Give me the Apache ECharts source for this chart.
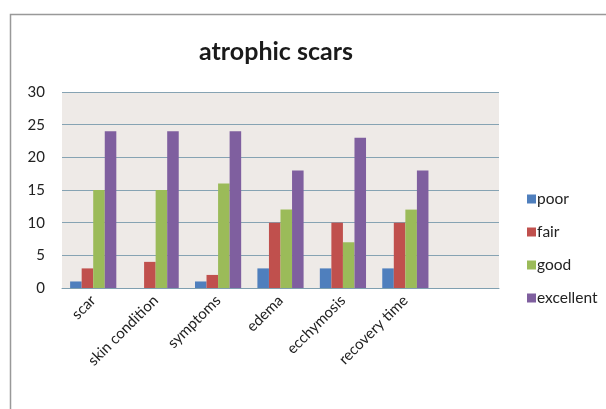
<!DOCTYPE html>
<html>
<head>
<meta charset="utf-8">
<script src="https://cdn.jsdelivr.net/npm/echarts@6/dist/echarts.min.js"></script>
<style>
html,body{margin:0;padding:0;background:#fff;}
#c{width:606px;height:409px;}
</style>
</head>
<body>
<div id="c"></div>
<script>
var categories = ['scar', 'skin condition', 'symptoms', 'edema', 'ecchymosis', 'recovery time', ''];
var poor = [1, 0, 1, 3, 3, 3, null];
var fair = [3, 4, 2, 10, 10, 10, null];
var good = [15, 15, 16, 12, 7, 12, null];
var excellent = [24, 24, 24, 18, 23, 18, null];
var yTicks = [0, 5, 10, 15, 20, 25, 30];

var font = 'Lato, "Open Sans", sans-serif';
var chart = echarts.init(document.getElementById('c'));
function s(name, data, color) {
  return {
    name: name, type: 'bar', data: data,
    barGap: '0%', barCategoryGap: '26%',
    itemStyle: {color: color},
    emphasis: {disabled: true}
  };
}
chart.setOption({
  animation: false,
  backgroundColor: '#fff',
  title: {
    text: 'atrophic scars', left: 271, top: 34, textAlign: 'center',
    textStyle: {fontFamily: font, fontWeight: 'bold', fontSize: 25, color: '#1a1a1a'}
  },
  graphic: [{
    type: 'rect', shape: {x: 10.5, y: 14.5, width: 700, height: 500},
    style: {fill: null, stroke: '#999', lineWidth: 1.5}, silent: true
  }],
  legend: {
    orient: 'vertical', left: 522, top: 186, itemWidth: 9, itemHeight: 9, itemGap: 17,
    icon: 'rect',
    textStyle: {fontFamily: font, fontSize: 15.5, color: '#222', padding: [0, 0, 0, -4]},
    data: ['poor', 'fair', 'good', 'excellent']
  },
  grid: {left: 62, right: 107, top: 92, bottom: 121, show: true, backgroundColor: '#eeeae7', borderWidth: 0},
  xAxis: {
    type: 'category', data: categories,
    axisLine: {lineStyle: {color: '#7f9fb0', width: 1}},
    axisTick: {show: false},
    axisLabel: {rotate: 45, margin: 10, fontFamily: font, fontSize: 15, color: '#222', interval: 0}
  },
  yAxis: {
    type: 'value', min: 0, max: 30, interval: 5,
    axisLine: {show: false}, axisTick: {show: false},
    axisLabel: {margin: 17, fontFamily: font, fontSize: 15, color: '#222',
      formatter: function (v) { return yTicks.indexOf(v) >= 0 ? String(v) : ''; }},
    splitLine: {lineStyle: {color: '#86a3b3', width: 1.2}}
  },
  series: [
    s('poor', poor, '#4f7fbd'),
    s('fair', fair, '#c0504d'),
    s('good', good, '#9bbb59'),
    s('excellent', excellent, '#7f5f9f')
  ]
});
</script>
</body>
</html>
